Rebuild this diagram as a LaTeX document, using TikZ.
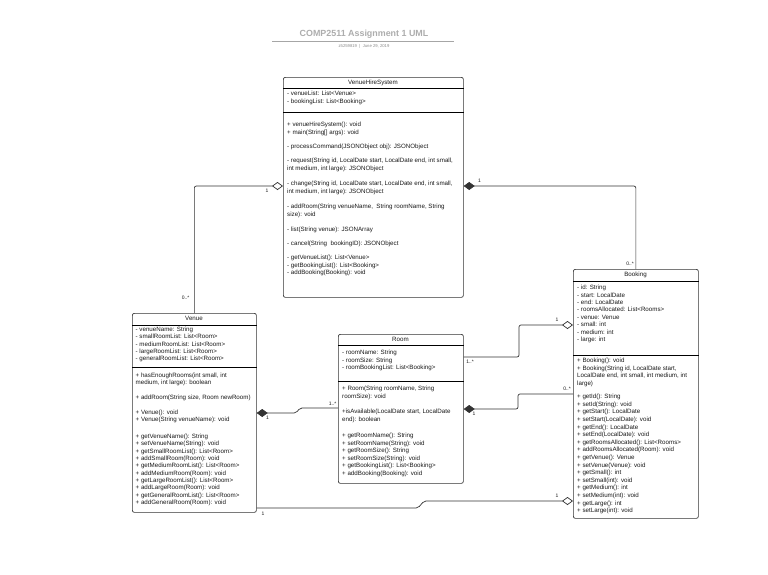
\documentclass[tikz,border=0pt]{standalone}
\usepackage{fontspec}
\setmainfont{Liberation Sans}
\usetikzlibrary{arrows.meta}
\begin{document}
\begin{tikzpicture}[x=1pt,y=-1pt,
  cls/.style={draw=black!80, line width=0.7pt, rounded corners=2pt, fill=white, inner sep=0pt, anchor=north west},
  sep/.style={line width=0.7pt, draw=black},
  txt/.style={font=\fontsize{6.2}{7.4}\selectfont, inner sep=0pt, anchor=west, text height=4.5pt, text depth=1.3pt, text=black!90},
  ttl/.style={txt, anchor=center},
  mult/.style={font=\fontsize{5}{6}\selectfont, inner sep=0pt, text=black!90},
  conn/.style={draw=black!80, line width=0.7pt, rounded corners=2pt},
  comp/.style={conn, -{Diamond[length=11pt,width=8pt]}},
  aggr/.style={conn, -{Diamond[open,length=11pt,width=8pt,fill=white]}},
]
\useasboundingbox[fill=white] (0,0) rectangle (768,574);

% page title
\node[font=\bfseries\fontsize{8.9}{10}\selectfont, text=black!32] (title) at (364,34) {COMP2511 Assignment 1 UML};
\draw[black!35, line width=0.6pt] (272,41) -- (454,41);
\node[font=\fontsize{4.2}{5}\selectfont, text=black!45] (sub) at (364,46) {z5259819 \ | \ June 29, 2019};

% ---------- boxes ----------
\node[cls, minimum width=180pt, minimum height=220pt] (vhs) at (283,77) {};
\node[cls, minimum width=124pt, minimum height=199pt] (venue) at (132,313) {};
\node[cls, minimum width=125pt, minimum height=149pt] (room) at (338,334) {};
\node[cls, minimum width=125pt, minimum height=249pt] (booking) at (573,269) {};

% dividers
\draw[sep] (vhs.west |- 0,88) -- (vhs.east |- 0,88);
\draw[sep] (vhs.west |- 0,112) -- (vhs.east |- 0,112);
\draw[sep] (venue.west |- 0,325) -- (venue.east |- 0,325);
\draw[sep] (venue.west |- 0,367) -- (venue.east |- 0,367);
\draw[sep] (room.west |- 0,345) -- (room.east |- 0,345);
\draw[sep] (room.west |- 0,381) -- (room.east |- 0,381);
\draw[sep] (booking.west |- 0,281) -- (booking.east |- 0,281);
\draw[sep] (booking.west |- 0,355) -- (booking.east |- 0,355);

% titles
\node[ttl] (vhsT) at (373,82.5) {VenueHireSystem};
\node[ttl] (venueT) at (194,319) {Venue};
\node[ttl] (roomT) at (400.5,339.5) {Room};
\node[ttl] (bookingT) at (635.5,275) {Booking};

% VenueHireSystem text
\foreach \y/\t [count=\k] in {
  94/{- venueList: List<Venue>},
  102/{- bookingList: List<Booking>},
  125/{+ venueHireSystem(): void},
  132.5/{+ main(String[] args): void},
  147/{- processCommand(JSONObject obj): JSONObject},
  161/{- request(String id, LocalDate start, LocalDate end, int small,},
  168.5/{int medium, int large): JSONObject},
  184/{- change(String id, LocalDate start, LocalDate end, int small,},
  191.5/{int medium, int large): JSONObject},
  207/{- addRoom(String venueName, \ String roomName, String},
  214.5/{size): void},
  230/{- list(String venue): JSONArray},
  244/{- cancel(String \ bookingID): JSONObject},
  258/{- getVenueList(): List<Venue>},
  265.5/{- getBookingList(): List<Booking>},
  273/{- addBooking(Booking): void}}
  \node[txt, name=vhsL\k] at (287,\y) {\t};

% Venue text
\foreach \y/\t [count=\k] in {
  330/{- venueName: String},
  337.3/{- smallRoomList: List<Room>},
  344.6/{- mediumRoomList: List<Room>},
  352/{- largeRoomList: List<Room>},
  359.3/{- generalRoomList: List<Room>},
  376/{+ hasEnoughRooms(int small, int},
  383.3/{medium, int large): boolean},
  398/{+ addRoom(String size, Room newRoom)},
  413/{+ Venue(): void},
  420.3/{+ Venue(String venueName): void},
  437/{+ getVenueName(): String},
  444.3/{+ setVenueName(String): void},
  451.6/{+ getSmallRoomList(): List<Room>},
  459/{+ addSmallRoom(Room): void},
  466.3/{+ getMediumRoomList(): List<Room>},
  473.6/{+ addMediumRoom(Room): void},
  481/{+ getLargeRoomList(): List<Room>},
  488.3/{+ addLargeRoom(Room): void},
  495.6/{+ getGeneralRoomList(): List<Room>},
  503/{+ addGeneralRoom(Room): void}}
  \node[txt, name=venueL\k] at (135.5,\y) {\t};

% Room text
\foreach \y/\t [count=\k] in {
  353/{- roomName: String},
  360.5/{- roomSize: String},
  368/{- roomBookingList: List<Booking>},
  389/{+ Room(String roomName, String},
  396.5/{roomSize): void},
  412/{+isAvailable(LocalDate start, LocalDate},
  419.5/{end): boolean},
  436/{+ getRoomName(): String},
  443.5/{+ setRoomName(String): void},
  451/{+ getRoomSize(): String},
  458.5/{+ setRoomSize(String): void},
  466/{+ getBookingList(): List<Booking>},
  473.5/{+ addBooking(Booking): void}}
  \node[txt, name=roomL\k] at (342,\y) {\t};

% Booking text
\foreach \y/\t [count=\k] in {
  288/{- id: String},
  295.4/{- start: LocalDate},
  302.8/{- end: LocalDate},
  310.2/{- roomsAllocated: List<Rooms>},
  317.6/{- venue: Venue},
  325/{- small: int},
  332.4/{- medium: int},
  339.8/{- large: int},
  361/{+ Booking(): void},
  368.5/{+ Booking(String id, LocalDate start,},
  376/{LocalDate end, int small, int medium, int},
  383.5/{large)},
  397/{+ getId(): String},
  404.6/{+ setId(String): void},
  412.2/{+ getStart(): LocalDate},
  419.8/{+ setStart(LocalDate): void},
  427.4/{+ getEnd(): LocalDate},
  435/{+ setEnd(LocalDate): void},
  442.6/{+ getRoomsAllocated(): List<Rooms>},
  450.2/{+ addRoomsAllocated(Room): void},
  457.8/{+ getVenue(): Venue},
  465.4/{+ setVenue(Venue): void},
  473/{+ getSmall(): int},
  480.6/{+ setSmall(int): void},
  488.2/{+ getMedium(): int},
  495.8/{+ setMedium(int): void},
  503.4/{+ getLarge(): int},
  511/{+ setLarge(int): void}}
  \node[txt, name=bookingL\k] at (577,\y) {\t};

% ---------- connectors ----------
% VenueHireSystem <>-- Venue
\draw[aggr] (venue.north) |- (vhs.west |- 0,186);
\node[mult] (m1) at (267,191) {1};
\node[mult] (m2) at (185.5,298) {0..*};
% VenueHireSystem <#>-- Booking
\draw[comp] (booking.north) |- (vhs.east |- 0,186);
\node[mult] (m3) at (479.5,181) {1};
\node[mult] (m4) at (630,263.5) {0..*};
% Booking <>-- Room
\draw[aggr] (room.east |- 0,357) -- (519,357) -- (519,325) -- (booking.west |- 0,325);
\node[mult] (m5) at (557,320) {1};
\node[mult] (m6) at (470,362) {1..*};
% Room <#>-- Booking
\draw[comp] (booking.west |- 0,394) -- (518,394) -- (518,409) -- (room.east |- 0,409);
\node[mult] (m7) at (567,388.5) {0..*};
\node[mult] (m8) at (474,414) {1};
% Venue <#>-- Room
\draw[comp] (room.west |- 0,408) -- (300,408) -- (296,413) -- (venue.east |- 0,413);
\node[mult] (m9) at (267.5,418) {1};
\node[mult] (m10) at (332.5,404) {1..*};
% Booking <>-- Venue
\draw[aggr] (venue.east |- 0,508) -- (418,508) -- (424,501) -- (booking.west |- 0,501);
\node[mult] (m11) at (263,514) {1};
\node[mult] (m12) at (557,495.5) {1};
\end{tikzpicture}
\end{document}
